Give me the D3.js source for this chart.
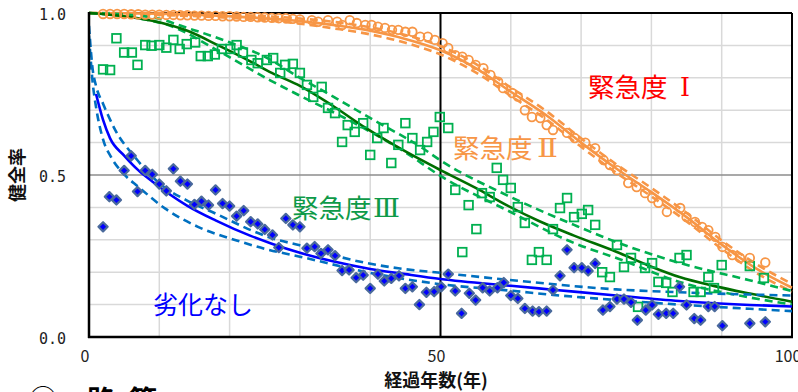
<!DOCTYPE html>
<html>
<head>
<meta charset="utf-8">
<script src="https://cdn.jsdelivr.net/npm/d3@7"></script>
<style>
  html, body { margin: 0; padding: 0; background: #fff; }
  svg { display: block; }
  .jp { font-family: "Noto Sans CJK JP", "Noto Sans", sans-serif; }
</style>
</head>
<body>
<svg id="chart" width="798" height="392"></svg>
<script>
// Observed soundness ratio per elapsed year: [year, ratio]
const obsGrade1 = [
  [2,0.997],[3,0.997],[4,0.997],[5,0.997],[6,0.996],[7,0.996],[8,0.995],[9,0.995],[10,0.995],
  [11,0.994],[12,0.994],[13,0.993],[14,0.993],[15,0.992],[16,0.992],[17,0.991],[18,0.991],
  [19,0.990],[20,0.990],[21,0.989],[22,0.988],[23,0.988],[24,0.987],[25,0.986],[26,0.985],
  [27,0.984],[28,0.984],[29,0.982],[30,0.980],[31.7,0.978],[32.6,0.973],[34,0.978],[35.3,0.973],
  [36,0.963],[37.1,0.978],[38.1,0.969],[39.3,0.963],[40.2,0.963],[41.1,0.958],[42.1,0.954],
  [43.1,0.948],[44,0.948],[45,0.942],[46,0.942],[47.1,0.927],[48.2,0.927],[49.2,0.917],
  [50.3,0.907],[51.1,0.892],[52.1,0.870],[53.1,0.865],[54,0.855],[55,0.840],[56.1,0.830],
  [57.1,0.809],[58.2,0.788],[58.9,0.768],[60.2,0.753],[61,0.742],[62,0.700],[63,0.679],
  [64.2,0.676],[65.1,0.654],[66,0.639],[68,0.630],[69.1,0.614],[70.6,0.600],[72,0.583],
  [73.2,0.546],[74.1,0.531],[75.1,0.515],[76.7,0.475],[77.9,0.463],[79.1,0.444],[80.1,0.429],
  [81,0.414],[82.2,0.386],[84.1,0.398],[85,0.370],[86.2,0.355],[87.2,0.340],[88.1,0.330],
  [89.1,0.309],[90.1,0.278],[91.5,0.253],[92.6,0.244],[94,0.244],[96.2,0.230]
];
const obsGrade3 = [
  [2,0.826],[3,0.824],[3.9,0.922],[5,0.878],[6.1,0.878],[6.9,0.840],[8,0.901],[8.9,0.899],
  [10,0.901],[11,0.893],[12,0.917],[12.9,0.889],[13.9,0.904],[15.1,0.909],[15.9,0.867],
  [16.9,0.867],[17.9,0.872],[18.9,0.889],[20.1,0.889],[21,0.901],[21.9,0.878],[23.1,0.855],
  [24,0.845],[25.3,0.855],[26.2,0.861],[27.2,0.815],[27.9,0.840],[29,0.843],[30,0.815],
  [31,0.778],[31.9,0.741],[33.1,0.772],[34,0.707],[35,0.691],[36,0.602],[36.8,0.654],
  [37.8,0.633],[39,0.660],[40,0.562],[41,0.614],[41.9,0.645],[43,0.537],[44,0.593],[45,0.660],
  [46,0.614],[47.1,0.577],[48.1,0.602],[49,0.633],[49.9,0.679],[51.1,0.645],[52.1,0.454],
  [53.1,0.262],[54,0.407],[55.1,0.333],[55.9,0.444],[57,0.432],[58,0.522],[58.9,0.485],
  [60,0.460],[61,0.401],[62,0.352],[63,0.238],[64,0.262],[65.1,0.238],[66,0.333],[67,0.398],
  [68,0.429],[69,0.370],[70.1,0.380],[71,0.392],[72,0.346],[73,0.200],[74.1,0.185],[75.1,0.284],
  [76.1,0.216],[77.1,0.244],[78.1,0.093],[79.1,0.213],[80.1,0.228],[81,0.170],[82.1,0.167],
  [83,0.139],[84,0.244],[85,0.253],[86,0.139],[87,0.139],[88.1,0.185],[88.9,0.151],[90,0.222],
  [94,0.219],[96,0.182]
];
const obsSound = [
  [2,0.340],[2.9,0.433],[3.9,0.423],[5,0.514],[6,0.559],[6.9,0.449],[8,0.514],[9,0.502],
  [10,0.472],[11,0.451],[12,0.519],[13,0.481],[14,0.472],[15,0.409],[16,0.419],[17,0.407],
  [18,0.454],[19,0.412],[20,0.404],[21,0.373],[22,0.390],[23,0.356],[24,0.349],[25,0.332],
  [26.1,0.315],[27,0.276],[28,0.366],[29,0.346],[30,0.340],[31,0.274],[32.1,0.279],[33,0.258],
  [34,0.269],[35,0.251],[36,0.205],[37,0.207],[38,0.183],[39,0.191],[40,0.150],[41.1,0.194],
  [42,0.173],[43,0.181],[44.1,0.189],[45,0.150],[46,0.155],[47,0.100],[48,0.138],[49.1,0.140],
  [50.1,0.155],[51.1,0.194],[52.1,0.142],[53,0.073],[54.1,0.135],[55,0.114],[56,0.152],
  [57,0.142],[58.1,0.152],[59,0.168],[60,0.128],[61,0.119],[62,0.088],[63.1,0.080],[64,0.078],
  [65.1,0.080],[66,0.145],[67,0.189],[68,0.269],[69,0.214],[70.1,0.214],[71,0.204],[72,0.227],
  [73.1,0.083],[74.1,0.094],[75.1,0.117],[76.1,0.117],[77.1,0.107],[78,0.052],[79.2,0.083],
  [80.1,0.099],[81,0.070],[82.1,0.073],[83.1,0.073],[84,0.155],[85,0.099],[86.1,0.057],
  [87,0.052],[88.1,0.094],[89,0.094],[90.1,0.035],[94,0.042],[96.2,0.047]
];

// Fitted curves (solid) and their upper / lower bands (dashed)
const fitGrade1 = [[0,1.0],[10,0.998],[20,0.99],[30,0.975],[35,0.962],[40,0.945],[45,0.92],[50,0.885],
  [55,0.83],[60,0.757],[65,0.685],[70,0.6],[75,0.52],[80,0.447],[85,0.37],[90,0.285],[95,0.21],[100,0.152]];
const fitGrade1Hi = [[0,1.0],[10,1.0],[20,0.995],[30,0.983],[35,0.972],[40,0.956],[45,0.932],[50,0.898],
  [55,0.843],[60,0.77],[65,0.698],[70,0.613],[75,0.533],[80,0.46],[85,0.383],[90,0.298],[95,0.224],[100,0.164]];
const fitGrade1Lo = [[0,0.998],[10,0.994],[20,0.985],[30,0.967],[35,0.952],[40,0.934],[45,0.908],[50,0.872],
  [55,0.817],[60,0.744],[65,0.672],[70,0.587],[75,0.507],[80,0.434],[85,0.357],[90,0.272],[95,0.197],[100,0.14]];

const fitGrade3 = [[0,1.0],[5,0.99],[9,0.976],[14,0.945],[18.4,0.9],[23,0.85],[26,0.815],[30,0.775],
  [34.5,0.716],[39.3,0.646],[44,0.585],[50,0.515],[55,0.46],[59.4,0.407],[64,0.358],[69,0.313],
  [75,0.263],[80,0.217],[84,0.185],[89,0.157],[94,0.134],[100,0.109]];
const fitGrade3Hi = [[0,1.0],[6,0.994],[10,0.982],[13.4,0.958],[18.4,0.922],[25.7,0.857],[30,0.8],
  [34.5,0.745],[40.7,0.667],[47.3,0.585],[50,0.545],[59.4,0.438],[69,0.346],[75.5,0.289],
  [84.3,0.227],[93.8,0.176],[100,0.142]];
const fitGrade3Lo = [[0,1.0],[8,0.98],[10.8,0.966],[19.3,0.872],[25.7,0.793],[29.8,0.747],[36.9,0.67],
  [45,0.57],[50,0.497],[59.4,0.392],[69,0.29],[75.5,0.24],[84,0.17],[94,0.122],[100,0.1]];

const fitSound = [[1,0.75],[2,0.67],[3,0.613],[5,0.56],[7,0.515],[9,0.48],[14,0.405],[18,0.36],
  [23,0.312],[26,0.288],[30,0.26],[35,0.232],[40,0.21],[45,0.194],[50,0.179],[60,0.158],[66,0.146],
  [75,0.128],[84,0.111],[94,0.099],[100,0.094]];
const fitSoundHi = [[0,0.96],[0.5,0.83],[1,0.775],[2,0.72],[2.7,0.685],[3.7,0.64],[6.5,0.556],
  [10.3,0.469],[13.7,0.424],[18.4,0.377],[23,0.33],[26,0.305],[30,0.283],[34.5,0.254],[39.3,0.229],
  [44,0.212],[50,0.198],[59.4,0.177],[75,0.147],[84,0.138],[94,0.131],[100,0.128]];
const fitSoundLo = [[0,0.93],[0.5,0.79],[1,0.71],[2,0.61],[3.2,0.553],[5,0.502],[7,0.464],[10.8,0.397],
  [15.5,0.34],[21,0.298],[25,0.272],[30,0.248],[40,0.198],[50,0.163],[60,0.143],[66,0.13],
  [75,0.114],[84,0.1],[94,0.087],[100,0.08]];

// Axis ticks
const xTicks = [0, 50, 100];
const yTicks = [0, 0.5, 1.0];
const xGrid = [10, 20, 30, 40, 60, 70, 80, 90];
const yGrid = [0.1, 0.2, 0.3, 0.4, 0.6, 0.7, 0.8, 0.9];

const svg = d3.select("#chart");
const x = d3.scaleLinear().domain([0, 100]).range([89, 792]);
const y = d3.scaleLinear().domain([0, 1]).range([337, 13]);

// Grid
const grid = svg.append("g");
grid.selectAll(".vg").data(xGrid).join("line")
  .attr("x1", d => x(d)).attr("x2", d => x(d)).attr("y1", y(0)).attr("y2", y(1))
  .attr("stroke", "#d9d9d9").attr("stroke-width", 1.5);
grid.selectAll(".hg").data(yGrid).join("line")
  .attr("x1", x(0)).attr("x2", x(100)).attr("y1", d => y(d)).attr("y2", d => y(d))
  .attr("stroke", "#d9d9d9").attr("stroke-width", 1.5);
grid.append("line").attr("x1", x(0)).attr("x2", x(100)).attr("y1", y(0.5)).attr("y2", y(0.5))
  .attr("stroke", "#8c8c8c").attr("stroke-width", 1.5);
grid.append("line").attr("x1", x(50)).attr("x2", x(50)).attr("y1", y(0)).attr("y2", y(1))
  .attr("stroke", "#000").attr("stroke-width", 2);

// Frame
svg.append("line").attr("x1", x(0)).attr("x2", x(100)).attr("y1", y(1)).attr("y2", y(1))
  .attr("stroke", "#000").attr("stroke-width", 2);
svg.append("line").attr("x1", x(100)).attr("x2", x(100)).attr("y1", y(0)).attr("y2", y(1))
  .attr("stroke", "#000").attr("stroke-width", 2);

// Clip to plot area
svg.append("clipPath").attr("id", "plot").append("rect")
  .attr("x", x(0)).attr("y", y(1) - 6).attr("width", x(100) - x(0) + 6).attr("height", y(0) - y(1) + 6);

const line = d3.line().x(d => x(d[0])).y(d => y(d[1])).curve(d3.curveMonotoneX);
const lines = svg.append("g").attr("clip-path", "url(#plot)");
const marks = svg.append("g").attr("clip-path", "url(#plot)");

// Markers
marks.selectAll(".sq").data(obsGrade3).join("rect")
  .attr("x", d => x(d[0]) - 4.3).attr("y", d => y(d[1]) - 4.3)
  .attr("width", 8.6).attr("height", 8.6)
  .attr("fill", "none").attr("stroke", "#00b050").attr("stroke-width", 1.8);

marks.selectAll(".dm").data(obsSound).join("path")
  .attr("d", d => { const cx = x(d[0]), cy = y(d[1]), r = 4.6;
    return `M${cx},${cy - r}L${cx + r},${cy}L${cx},${cy + r}L${cx - r},${cy}Z`; })
  .attr("fill", "#0000ff").attr("stroke", "#4a6a9c").attr("stroke-width", 2.2)
  .attr("stroke-linejoin", "round");

marks.selectAll(".ci").data(obsGrade1).join("circle")
  .attr("cx", d => x(d[0])).attr("cy", d => y(d[1])).attr("r", 4.3)
  .attr("fill", "none").attr("stroke", "#f79646").attr("stroke-width", 1.8);

// Curves
const dash = "8,5";
function curve(data, color, dashed) {
  lines.append("path").datum(data).attr("d", line)
    .attr("fill", "none").attr("stroke", color).attr("stroke-width", 2.6)
    .attr("stroke-dasharray", dashed ? dash : null);
}
curve(fitGrade1Hi, "#f79646", true);
curve(fitGrade1Lo, "#f79646", true);
curve(fitGrade1, "#f79646", false);
curve(fitGrade3Hi, "#00b050", true);
curve(fitGrade3Lo, "#00b050", true);
curve(fitGrade3, "#006e00", false);
curve(fitSoundHi, "#0070c0", true);
curve(fitSoundLo, "#0070c0", true);
curve(fitSound, "#0000ff", false);

// Axes
svg.append("line").attr("x1", x(0)).attr("x2", x(0)).attr("y1", y(0) + 1).attr("y2", y(1) - 1)
  .attr("stroke", "#000").attr("stroke-width", 2.5);
svg.append("line").attr("x1", x(0) - 1).attr("x2", x(100) + 1).attr("y1", y(0)).attr("y2", y(0))
  .attr("stroke", "#000").attr("stroke-width", 2.5);

svg.selectAll(".yt").data(yTicks).join("text")
  .attr("x", 66).attr("y", d => y(d) + 7)
  .attr("text-anchor", "end")
  .attr("font-family", "DejaVu Sans Mono, monospace").attr("font-size", 15).attr("fill", "#222")
  .text(d => d.toFixed(1));

svg.selectAll(".xt").data(xTicks).join("text")
  .attr("class", "jp")
  .attr("x", d => x(d) - 4).attr("y", 362)
  .attr("text-anchor", "middle").attr("font-size", 16).attr("fill", "#222")
  .text(d => d);

svg.append("text").attr("class", "jp")
  .attr("x", 436).attr("y", 387).attr("text-anchor", "middle")
  .attr("font-size", 18).attr("font-weight", "bold").attr("fill", "#111")
  .text("経過年数(年)");

svg.append("text").attr("class", "jp")
  .attr("transform", "translate(24,175) rotate(-90)").attr("text-anchor", "middle")
  .attr("font-size", 18).attr("font-weight", "bold").attr("fill", "#111")
  .text("健全率");

// Region labels: kanji part plus a serif roman numeral
const labels = [
  { t: "緊急度", n: "Ⅰ", x: 588, nx: 680, nw: 10, y: 97, c: "#ff0000" },
  { t: "緊急度", n: "Ⅱ", x: 453, nx: 537, nw: 21, y: 158, c: "#f79646" },
  { t: "緊急度", n: "Ⅲ", x: 292, nx: 373, nw: 27, y: 218, c: "#0e9a48" }
];
const lab = svg.selectAll(".lb").data(labels).join("g");
lab.append("text").attr("class", "jp")
  .attr("x", d => d.x).attr("y", d => d.y)
  .attr("font-size", 26.5).attr("fill", d => d.c)
  .text(d => d.t);
lab.append("text")
  .attr("x", d => d.nx).attr("y", d => d.y - 1)
  .attr("font-family", "DejaVu Serif, serif").attr("font-size", 26)
  .attr("textLength", d => d.nw).attr("lengthAdjust", "spacingAndGlyphs")
  .attr("fill", d => d.c)
  .text(d => d.n);
svg.append("text").attr("class", "jp")
  .attr("x", 153).attr("y", 314)
  .attr("font-size", 25).attr("fill", "#0000ff")
  .text("劣化なし");

// Section headings partly outside the view
svg.append("text").attr("class", "jp").attr("x", 19).attr("y", -4)
  .attr("font-size", 28).attr("fill", "#000").text("①");
svg.append("text").attr("class", "jp").attr("x", 29).attr("y", 411)
  .attr("font-size", 28).attr("fill", "#000").text("②");
svg.append("text").attr("class", "jp").attr("x", 87).attr("y", 411)
  .attr("font-size", 28).attr("font-weight", "bold").attr("fill", "#000").text("路");
svg.append("text").attr("class", "jp").attr("x", 129).attr("y", 411)
  .attr("font-size", 28).attr("font-weight", "bold").attr("fill", "#000").text("管");
</script>
</body>
</html>
